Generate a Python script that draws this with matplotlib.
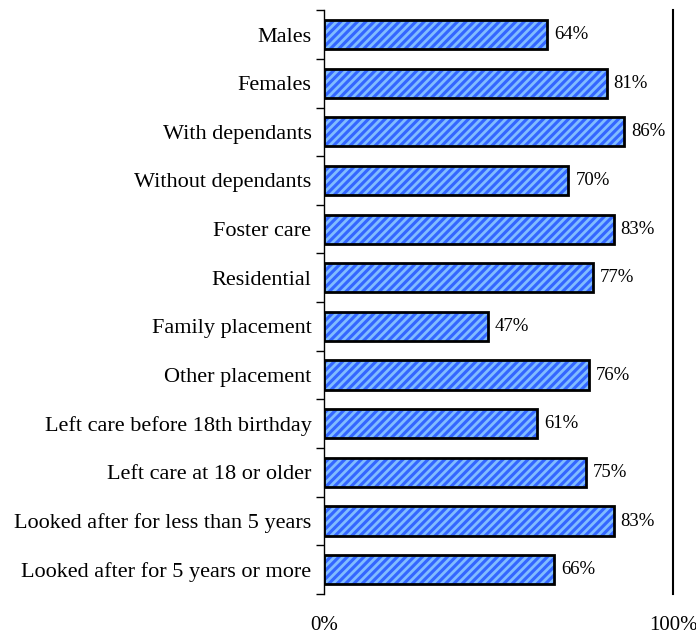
import matplotlib.pyplot as plt
import numpy as np

plt.rcParams["font.family"] = ["Liberation Serif", "DejaVu Serif"]
plt.rcParams["hatch.linewidth"] = 2.0

groups = [
    "Males",
    "Females",
    "With dependants",
    "Without dependants",
    "Foster care",
    "Residential",
    "Family placement",
    "Other placement",
    "Left care before 18th birthday",
    "Left care at 18 or older",
    "Looked after for less than 5 years",
    "Looked after for 5 years or more",
]
share = [64, 81, 86, 70, 83, 77, 47, 76, 61, 75, 83, 66]

fig = plt.figure(figsize=(6.96, 6.38), dpi=100)
ax = fig.add_axes([0.4655, 0.069, 0.5015, 0.915])

y = np.arange(len(groups))
# hatched fill first, then a black outline on top
ax.barh(y, share, height=0.6, color="#3366FF", edgecolor="#80BCFF",
        hatch="////", linewidth=0)
ax.barh(y, share, height=0.6, fill=False, edgecolor="black", linewidth=2)

for yi, v in zip(y, share):
    ax.text(v + 2.0, yi, f"{v}%", va="center", ha="left", fontsize=13.5)

ax.set_xlim(0, 100)
ax.set_ylim(len(groups) - 0.5, -0.5)
ax.set_yticks(y)
ax.set_yticklabels(groups, fontsize=16)
ax.set_yticks(np.arange(len(groups) + 1) - 0.5, minor=True)
ax.tick_params(axis="y", which="major", length=0, pad=9)
ax.tick_params(axis="y", which="minor", length=6, width=1, direction="out")
ax.set_xticks([0, 100])
ax.set_xticklabels(["0%", "100%"], fontsize=15)
ax.tick_params(axis="x", length=0, pad=16)

ax.spines["top"].set_visible(False)
ax.spines["bottom"].set_visible(False)
ax.spines["left"].set_linewidth(1)
ax.spines["right"].set_linewidth(1.5)

fig.savefig("out.png", dpi=100)
